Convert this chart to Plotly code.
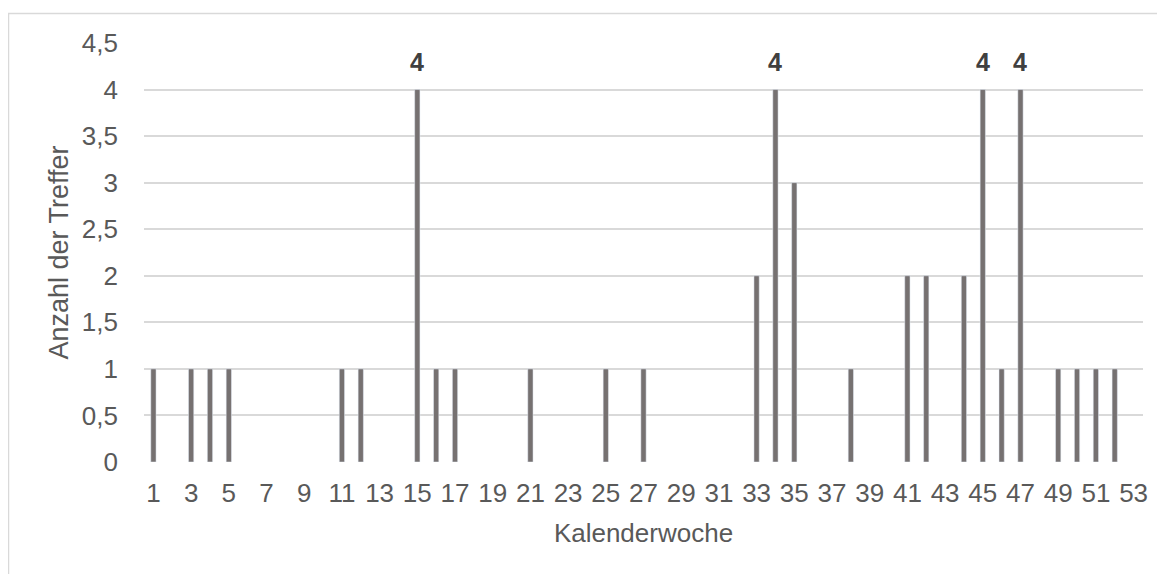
import plotly.graph_objects as go

weeks = [1, 3, 4, 5, 11, 12, 15, 16, 17, 21, 25, 27, 33, 34, 35, 38, 41, 42, 44, 45, 46, 47, 49, 50, 51, 52]
hits = [1, 1, 1, 1, 1, 1, 4, 1, 1, 1, 1, 1, 2, 4, 3, 1, 2, 2, 2, 4, 1, 4, 1, 1, 1, 1]
x_ticks = list(range(1, 54, 2))
y_ticks = [0, 0.5, 1, 1.5, 2, 2.5, 3, 3.5, 4, 4.5]

# page has an 8px body offset
W, H = 1157, 566
ml, mr, mt, mb = 136, 22, 35, 112
pw, ph = W - ml - mr, H - mt - mb

FONT = "Liberation Sans, Arial"

fig = go.Figure()
fig.add_trace(go.Bar(
    x=weeks, y=hits, marker_color="#767171", width=0.28,
    hoverinfo="x+y",
))

# bold data labels above the highest bars
for w, v in zip(weeks, hits):
    if v == max(hits):
        fig.add_annotation(x=w, y=v, text=str(v), showarrow=False,
                           yanchor="bottom", yshift=12,
                           font=dict(family=FONT, size=25, color="#404040", weight="bold"))

fig.update_layout(
    width=W, height=H,
    margin=dict(l=ml, r=mr, t=mt, b=mb),
    paper_bgcolor="white", plot_bgcolor="white",
    separators=", ",
    showlegend=False,
    font=dict(family=FONT, color="#595959", size=26),
    xaxis=dict(
        range=[0.5, 53.5], tickmode="array", tickvals=x_ticks,
        ticktext=[str(t) for t in x_ticks],
        showgrid=False, zeroline=False, showline=False, ticks="",
        ticklabelstandoff=13,
        tickfont=dict(family=FONT, size=26, color="#595959"),
        title=dict(text="Kalenderwoche", font=dict(family=FONT, size=26, color="#595959"), standoff=16),
    ),
    yaxis=dict(
        range=[0, 4.5], tickmode="array", tickvals=y_ticks,
        showgrid=True, gridcolor="#d9d9d9", gridwidth=1.5,
        zeroline=False, showline=False, ticks="", ticklabelstandoff=25,
        tickfont=dict(family=FONT, size=26, color="#595959"),
        title=dict(text="Anzahl der Treffer", font=dict(family=FONT, size=27, color="#595959"), standoff=5),
    ),
)

# chart frame (left and top edges visible)
x0 = (0.5 - ml) / pw
y1 = 1 + (mt - 5.5) / ph
fig.add_shape(type="rect", xref="paper", yref="paper",
              x0=x0, x1=1.2, y0=-0.5, y1=y1,
              line=dict(color="#d9d9d9", width=1.5), fillcolor="rgba(0,0,0,0)", layer="below")

fig.write_html("out.html")
